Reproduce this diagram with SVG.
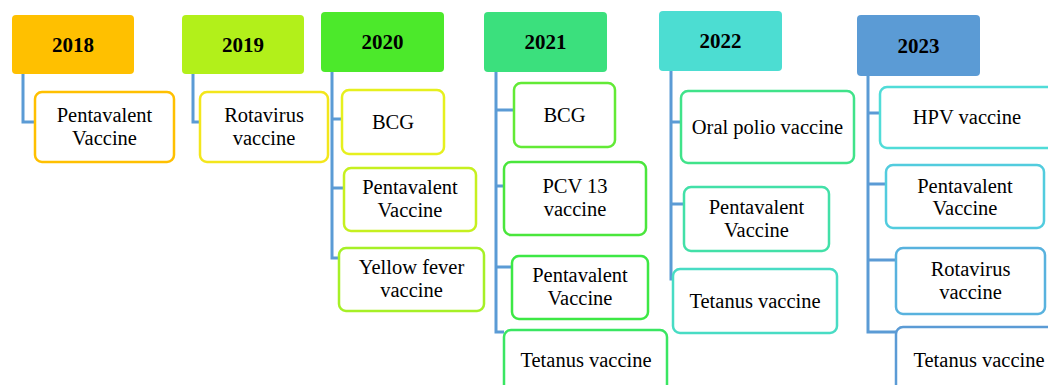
<svg xmlns="http://www.w3.org/2000/svg" width="1048" height="385" viewBox="0 0 1048 385">
<style>
.hd{stroke:none}
.ht{font-family:"Liberation Serif","Times New Roman",serif;font-size:21px;font-weight:bold;fill:#000;text-anchor:middle}
.bx{fill:#fff;stroke-width:2.5}
.lb{font-family:"Liberation Serif","Times New Roman",serif;font-size:20.5px;fill:#000;text-anchor:middle}
.cn{fill:none;stroke:#5B9BD5;stroke-width:3}
</style>
<rect width="1048" height="385" fill="#fff"/>
<g id="connectors">
<path class="cn" d="M23 74V122H35"/>
<path class="cn" d="M193 74V122H200"/>
<path class="cn" d="M332 72V258H339M332 119H342M332 188H344"/>
<path class="cn" d="M496 72V332H504M496 110H514M496 186H504M496 267H512"/>
<path class="cn" d="M671 71V279H673M671 122H681M671 204H684"/>
<path class="cn" d="M868 76V332H896M868 113H880M868 184H886M868 260H896"/>
</g>
<g id="y2018">
<rect class="hd" x="12" y="15" width="122" height="59" rx="4" fill="#FFC000"/>
<text class="ht" x="73" y="52">2018</text>
</g>
<g id="y2018-penta">
<rect class="bx" x="35" y="92" width="139" height="70" rx="7" stroke="#FFC000"/>
<text class="lb" x="104.5" y="122">Pentavalent</text>
<text class="lb" x="104.5" y="145">Vaccine</text>
</g>
<g id="y2019">
<rect class="hd" x="182" y="15" width="122" height="59" rx="4" fill="#B2F01A"/>
<text class="ht" x="243" y="52">2019</text>
</g>
<g id="y2019-rota">
<rect class="bx" x="200" y="92" width="128" height="70" rx="7" stroke="#F3E61C"/>
<text class="lb" x="264" y="122">Rotavirus</text>
<text class="lb" x="264" y="145">vaccine</text>
</g>
<g id="y2020">
<rect class="hd" x="321" y="12" width="123" height="60" rx="4" fill="#4CE92B"/>
<text class="ht" x="382.5" y="49">2020</text>
</g>
<g id="y2020-bcg">
<rect class="bx" x="342" y="90" width="102" height="64" rx="7" stroke="#E6F01E"/>
<text class="lb" x="393" y="129">BCG</text>
</g>
<g id="y2020-penta">
<rect class="bx" x="344" y="168" width="132" height="63" rx="7" stroke="#C6F01F"/>
<text class="lb" x="410" y="194">Pentavalent</text>
<text class="lb" x="410" y="217">Vaccine</text>
</g>
<g id="y2020-yf">
<rect class="bx" x="339" y="248" width="145" height="63" rx="7" stroke="#A6F026"/>
<text class="lb" x="411.5" y="274">Yellow fever</text>
<text class="lb" x="411.5" y="297">vaccine</text>
</g>
<g id="y2021">
<rect class="hd" x="484" y="12" width="123" height="60" rx="4" fill="#3BE07D"/>
<text class="ht" x="545.5" y="49">2021</text>
</g>
<g id="y2021-bcg">
<rect class="bx" x="514" y="83" width="101" height="64" rx="7" stroke="#62EA36"/>
<text class="lb" x="564.5" y="122">BCG</text>
</g>
<g id="y2021-pcv">
<rect class="bx" x="504" y="162" width="142" height="73" rx="7" stroke="#4AE63C"/>
<text class="lb" x="575" y="193">PCV 13</text>
<text class="lb" x="575" y="216">vaccine</text>
</g>
<g id="y2021-penta">
<rect class="bx" x="512" y="256" width="136" height="63" rx="7" stroke="#3DE845"/>
<text class="lb" x="580" y="282">Pentavalent</text>
<text class="lb" x="580" y="305">Vaccine</text>
</g>
<g id="y2021-tet">
<rect class="bx" x="504" y="330" width="163" height="70" rx="7" stroke="#3AE662"/>
<text class="lb" x="586" y="367">Tetanus vaccine</text>
</g>
<g id="y2022">
<rect class="hd" x="659" y="11" width="123" height="60" rx="4" fill="#4CDDD2"/>
<text class="ht" x="720.5" y="48">2022</text>
</g>
<g id="y2022-opv">
<rect class="bx" x="681" y="91" width="173" height="72" rx="7" stroke="#40E38A"/>
<text class="lb" x="767.5" y="134">Oral polio vaccine</text>
</g>
<g id="y2022-penta">
<rect class="bx" x="684" y="187" width="145" height="64" rx="7" stroke="#42E0A8"/>
<text class="lb" x="756.5" y="214">Pentavalent</text>
<text class="lb" x="756.5" y="237">Vaccine</text>
</g>
<g id="y2022-tet">
<rect class="bx" x="673" y="269" width="164" height="64" rx="7" stroke="#48DCC4"/>
<text class="lb" x="755" y="308">Tetanus vaccine</text>
</g>
<g id="y2023">
<rect class="hd" x="857" y="15" width="123" height="61" rx="4" fill="#5B9BD5"/>
<text class="ht" x="918.5" y="53">2023</text>
</g>
<g id="y2023-hpv">
<rect class="bx" x="880" y="87" width="180" height="61" rx="7" stroke="#50DCD8"/>
<text class="lb" x="967" y="124">HPV vaccine</text>
</g>
<g id="y2023-penta">
<rect class="bx" x="886" y="165" width="158" height="63" rx="7" stroke="#52CCDE"/>
<text class="lb" x="965" y="193">Pentavalent</text>
<text class="lb" x="965" y="215">Vaccine</text>
</g>
<g id="y2023-rota">
<rect class="bx" x="896" y="248" width="149" height="66" rx="7" stroke="#58B2DE"/>
<text class="lb" x="970.5" y="276">Rotavirus</text>
<text class="lb" x="970.5" y="299">vaccine</text>
</g>
<g id="y2023-tet">
<rect class="bx" x="896" y="327" width="170" height="70" rx="7" stroke="#5B9BD5"/>
<text class="lb" x="979" y="367">Tetanus vaccine</text>
</g>
</svg>
